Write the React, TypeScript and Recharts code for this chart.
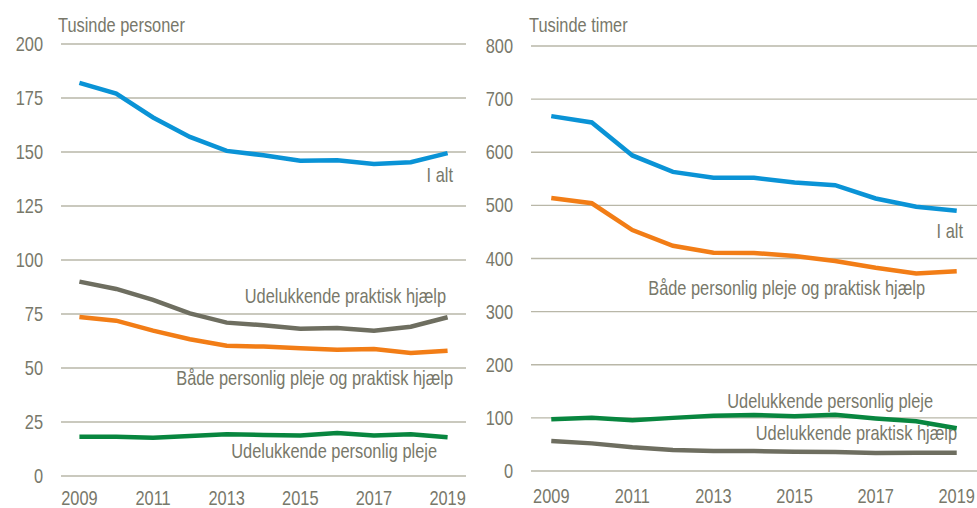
import React from 'react';
import { LineChart, Line, XAxis, YAxis, CartesianGrid, Customized } from 'recharts';

const years = ['2009', '2010', '2011', '2012', '2013', '2014', '2015', '2016', '2017', '2018', '2019'];

// Left panel: Tusinde personer
const personsTotal = [182, 177, 166, 157, 150.5, 148.5, 146, 146.2, 144.5, 145.3, 149.5];
const personsPractical = [90, 86.6, 81.5, 75.3, 71, 69.8, 68.2, 68.5, 67.3, 69.1, 73.5];
const personsBoth = [73.6, 71.9, 67.3, 63.3, 60.3, 59.9, 59.1, 58.5, 58.8, 56.9, 58];
const personsCare = [18.2, 18.2, 17.7, 18.5, 19.3, 19, 18.8, 19.9, 18.7, 19.3, 17.9];
const personsTicks = [0, 25, 50, 75, 100, 125, 150, 175, 200];

// Right panel: Tusinde timer
const hoursTotal = [668, 656, 594, 563, 552, 552, 543, 538, 513, 497.5, 490];
const hoursBoth = [514, 504, 453.6, 424, 411, 410.4, 404.7, 395.3, 382.7, 372, 375.8];
const hoursCare = [97.3, 100.4, 95.4, 100, 104, 105.4, 103, 106, 99, 93.5, 80.3];
const hoursPractical = [56.5, 52, 44.6, 39.5, 37.6, 37.6, 36.4, 35.8, 33.9, 34.5, 34.5];
const hoursTicks = [0, 100, 200, 300, 400, 500, 600, 700, 800];

const labels = {
  total: 'I alt',
  practical: 'Udelukkende praktisk hjælp',
  both: 'Både personlig pleje og praktisk hjælp',
  care: 'Udelukkende personlig pleje',
  unitLeft: 'Tusinde personer',
  unitRight: 'Tusinde timer',
};

const leftData = years.map((y, i) => ({
  year: y,
  total: personsTotal[i],
  practical: personsPractical[i],
  both: personsBoth[i],
  care: personsCare[i],
}));

const rightData = years.map((y, i) => ({
  year: y,
  total: hoursTotal[i],
  practical: hoursPractical[i],
  both: hoursBoth[i],
  care: hoursCare[i],
}));

const FONT = "'Liberation Sans', Arial, sans-serif";
const TEXT = '#78786a';
const GRID = '#b9b7a8';
const BLUE = '#0a93d6';
const ORANGE = '#f27d16';
const GREY = '#6e6e60';
const GREEN = '#08863f';
const FS = 20;
const SX = 0.82;
const SW = 4.5;

// Narrow text: Liberation Sans squeezed horizontally to mimic Arial Narrow
const NarrowText = ({ x, y, anchor, children, dy }: any) => (
  <text
    transform={`translate(${x},${y}) scale(${SX},1)`}
    x={0}
    y={0}
    dy={dy}
    textAnchor={anchor}
    fill={TEXT}
    fontSize={FS}
    fontFamily={FONT}
  >
    {children}
  </text>
);

const XTick = (props: any) => {
  const { x, y, payload } = props;
  return <NarrowText x={x} y={y} anchor="middle" dy="0.71em">{payload.value}</NarrowText>;
};

const YTick = (props: any) => {
  const { x, y, payload } = props;
  return <NarrowText x={x} y={y} anchor="end" dy="0.355em">{payload.value}</NarrowText>;
};

type Ann = { text: string; x: number; y: number; anchor: 'start' | 'end' };

const Annotations = ({ items }: { items: Ann[] }) => (
  <g>
    {items.map((a, i) => (
      <NarrowText key={i} x={a.x} y={a.y} anchor={a.anchor}>
        {a.text}
      </NarrowText>
    ))}
  </g>
);

const leftAnns: Ann[] = [
  { text: labels.unitLeft, x: 58, y: 32, anchor: 'start' },
  { text: labels.total, x: 453, y: 182, anchor: 'end' },
  { text: labels.practical, x: 446, y: 303, anchor: 'end' },
  { text: labels.both, x: 453, y: 385, anchor: 'end' },
  { text: labels.care, x: 437, y: 458, anchor: 'end' },
];

const rightAnns: Ann[] = [
  { text: labels.unitRight, x: 49, y: 32, anchor: 'start' },
  { text: labels.total, x: 483, y: 238, anchor: 'end' },
  { text: labels.both, x: 445, y: 295, anchor: 'end' },
  { text: labels.care, x: 453, y: 408, anchor: 'end' },
  { text: labels.practical, x: 477, y: 440, anchor: 'end' },
];

export default function App() {
  return (
    <div style={{ position: 'absolute', left: 0, top: 0, width: 977, height: 508, background: '#fff' }}>
      <div style={{ position: 'absolute', left: 0, top: 0 }}>
        <LineChart width={480} height={508} data={leftData} margin={{ top: 44, right: 14, bottom: 0, left: 0 }}>
          <CartesianGrid vertical={false} stroke={GRID} strokeWidth={1.3} />
          <XAxis
            dataKey="year"
            scale="band"
            interval={1}
            axisLine={false}
            tickLine={false}
            tickMargin={9}
            tick={<XTick />}
            height={32}
          />
          <YAxis
            domain={[0, 200]}
            ticks={personsTicks}
            axisLine={false}
            tickLine={false}
            tickMargin={12}
            width={61}
            tick={<YTick />}
          />
          <Line dataKey="total" stroke={BLUE} strokeWidth={SW} dot={false} type="linear" isAnimationActive={false} />
          <Line dataKey="practical" stroke={GREY} strokeWidth={SW} dot={false} type="linear" isAnimationActive={false} />
          <Line dataKey="both" stroke={ORANGE} strokeWidth={SW} dot={false} type="linear" isAnimationActive={false} />
          <Line dataKey="care" stroke={GREEN} strokeWidth={SW} dot={false} type="linear" isAnimationActive={false} />
          <Customized component={<Annotations items={leftAnns} />} />
        </LineChart>
      </div>
      <div style={{ position: 'absolute', left: 480, top: 0 }}>
        <LineChart width={497} height={508} data={rightData} margin={{ top: 46, right: 0, bottom: 0, left: 0 }}>
          <CartesianGrid vertical={false} stroke={GRID} strokeWidth={1.3} />
          <XAxis
            dataKey="year"
            scale="band"
            interval={1}
            axisLine={false}
            tickLine={false}
            tickMargin={12}
            tick={<XTick />}
            height={37}
          />
          <YAxis
            domain={[0, 800]}
            ticks={hoursTicks}
            axisLine={false}
            tickLine={false}
            tickMargin={12}
            width={51}
            tick={<YTick />}
          />
          <Line dataKey="total" stroke={BLUE} strokeWidth={SW} dot={false} type="linear" isAnimationActive={false} />
          <Line dataKey="both" stroke={ORANGE} strokeWidth={SW} dot={false} type="linear" isAnimationActive={false} />
          <Line dataKey="care" stroke={GREEN} strokeWidth={SW} dot={false} type="linear" isAnimationActive={false} />
          <Line dataKey="practical" stroke={GREY} strokeWidth={SW} dot={false} type="linear" isAnimationActive={false} />
          <Customized component={<Annotations items={rightAnns} />} />
        </LineChart>
      </div>
    </div>
  );
}
